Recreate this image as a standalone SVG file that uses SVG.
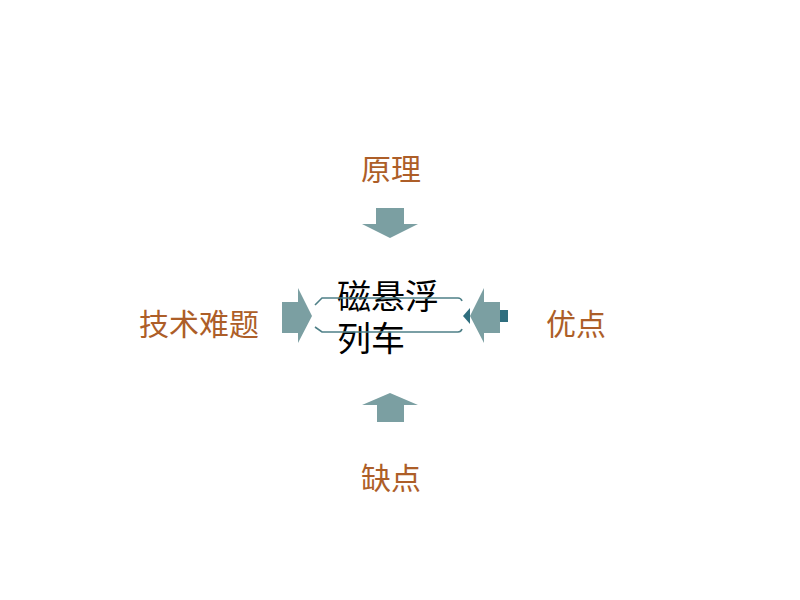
<svg xmlns="http://www.w3.org/2000/svg" width="800" height="600" viewBox="0 0 800 600">
<style>
.lbl{font-family:"Noto Sans CJK SC","Noto Sans",sans-serif;font-size:30px;fill:#AD5E28;text-anchor:middle}
.ctr{font-family:"Noto Sans CJK SC","Noto Sans",sans-serif;font-size:34px;fill:#000}
.arr{fill:#7B9FA2}
.dk{fill:#2F6E7E}
.br{fill:none;stroke:#4F8088;stroke-width:1.6}
</style>
<rect width="800" height="600" fill="#fff"/>
<g id="center">
<text class="ctr" x="337" y="309">磁悬浮</text>
<text class="ctr" x="337" y="351">列车</text>
</g>
<g id="connectors">
<path class="br" d="M315 305 L322 298 L458 298 Q461 298 462 301"/>
<path class="br" d="M315 327 L322 332 L458 332 Q461 332 462 329"/>
<polygon class="arr" points="376,208 404,208 404,224 418,224 390,238 362,224 376,224"/>
<polygon class="arr" points="377,422 404,422 404,405 418,405 390,393 362,405 377,405"/>
<polygon class="arr" points="282,302 298,302 298,288 312,316 298,343 298,333 282,333"/>
<polygon class="arr" points="500,302 484,302 484,288 470,316 484,343 484,333 500,333"/>
<rect class="dk" x="500" y="310" width="8" height="12"/>
<polygon class="dk" points="463,316 470,308 470,324"/>
</g>
<g id="n-yuanli"><text class="lbl" x="391" y="180">原理</text></g>
<g id="n-jishu"><text class="lbl" x="199" y="335">技术难题</text></g>
<g id="n-youdian"><text class="lbl" x="576" y="335">优点</text></g>
<g id="n-quedian"><text class="lbl" x="391" y="489">缺点</text></g>
</svg>
